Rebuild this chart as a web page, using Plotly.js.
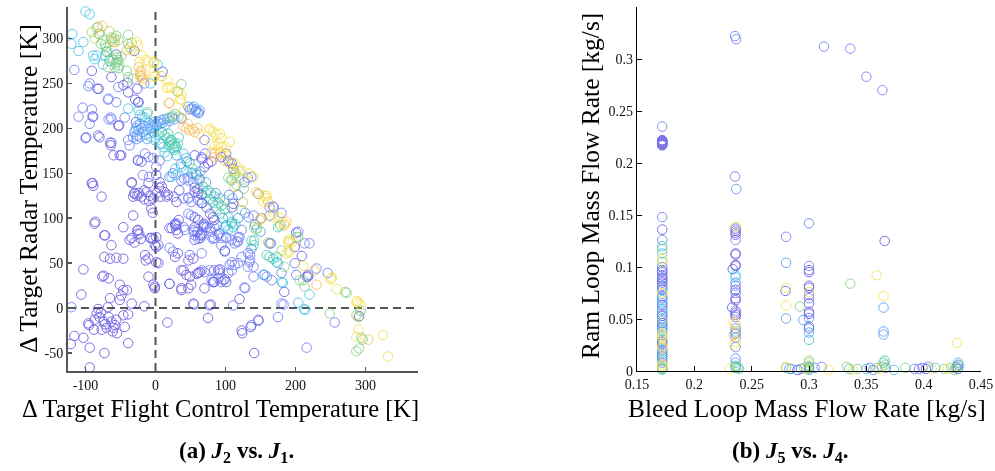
<!DOCTYPE html>
<html>
<head>
<meta charset="utf-8">
<script src="https://cdn.plot.ly/plotly-3.0.1.min.js"></script>
<style>html,body{margin:0;padding:0;background:#fff;}#chart{width:995px;height:471px;}</style>
</head>
<body>
<div id="chart"></div>
<script>
// ---------- Panel (a): J2 vs J1 (Δ flight control temp, Δ radar temp) ----------
const aPurple = [[-116,-31],[-121,-40],[-103,-33],[-94,-44],[-94,-66],[-73,-50],[-103,43],[-106,15],[-82,-1],[-84,-6],[-96,-17],[-95,-19],[-87,-13],[-74,-15],[-67,-10],[-80,-10],[-70,-22],[-77,-24],[-61,-26],[-58,-19],[-56,-13],[-46,-8],[-39,-7],[-44,-21],[-39,-39],[-34,5],[-68,1],[-65,11],[-51,9],[-49,14],[-46,20],[-41,20],[-51,26],[-74,36],[-76,35],[-67,33],[-73,57],[-65,55],[-56,56],[-46,55],[-63,-15],[-60,-22],[-72,-18],[-88,-24],[-78,-5],[-55,-28],
[-72,81],[-63,70],[-37,76],[-30,73],[-25,83],[-26,86],[-8,78],[-3,77],[-1,70],[1,68],[-15,59],[-10,55],[-14,53],[1,51],[4,50],[-3,26],[-1,22],[-16,2],[-10,35],[-1,24],[17,-16],[20,27],[37,20],[47,22],[40,42],[59,38],[54,5],[75,-11],[77,3],[70,22],[83,29],[37,42],[44,37],[49,35],[61,39],[63,40],[28,57],[32,61],[47,53],[49,59],[54,55],[37,22],[51,26],[120,10],[124,-28],[136,-21],[147,-14],[141,-50],[79,4],
[-91,139],[-77,124],[-86,96],[-73,81],[-34,139],[-30,128],[-24,128],[-32,124],[-20,124],[-16,131],[-10,139],[-60,170],[-51,170],[-82,192],[-52,203],[-28,207],[-99,190],[-80,190],[-63,184],[-64,181],[-49,170],[-25,164],[-20,163],[-34,140],[-90,139],[-89,136],[-30,127],[-26,125],[-13,129],[-8,125],[-3,122],[2,128],[5,134],[7,124],[-16,121],[-9,119],[18,126],[26,124],[34,131],[30,118],[-6,111],[-4,106],[-32,103],[-87,94],[-46,90],[-25,87],[-23,82],[-34,78],[-21,77],[-6,78],[1,79],[4,70],[23,89],[29,92],[32,83],[56,90],[60,85],[64,81],[56,76],[64,78],[1,148],[6,140],[9,135],[13,129],[16,124],[56,129],[61,128],[66,126],[66,117],[73,112],[78,105],[56,101],[61,98],[69,94],[73,90],[33,98],[28,94],[30,87],[82,101],[84,98],[70,157],[75,161],[80,163],[94,168],[104,164],[109,161],[111,155],[91,83],[99,63],[99,32],[101,29],[82,29],
[-91,264],[-83,244],[-89,213],[-56,282],[-53,203],[-25,229],[-30,286],[10,263],[37,211],[-63,257],[-46,248],[-40,251],[-39,240],[-26,244],[-29,232],[66,166],[56,170],
[201,84],[209,58],[216,35],[218,35],[199,68],[147,127],[163,72],[151,100],[184,18],[291,-9],[56,134],[60,132],[109,112],[111,116],[123,-25],[84,42],[90,42],[92,43]];

const aBlueViolet = [[-120,1],[-116,265],[-110,213],[-100,189],[-94,250],[-96,247],[-91,221],[-68,232],[-56,229],[-67,210],[-63,210],[-44,212],[-39,187],[-37,181],[-26,192],[-65,184],[-32,190],[-94,205],[-90,213],[-64,212],[-81,244],[-67,233],[-104,223],[-53,246],[-24,229],[-16,250],[-25,165],[-15,172],[-10,168],[1,157],[20,146],[25,150],[37,142],[47,142],[54,140],[40,122],[47,122],[47,105],[51,103],[54,87],[66,83],[47,123],[51,118],[61,120],[67,117],[59,148],[63,144],[41,144],[46,145],[66,168],[71,172],[-3,167],[6,164],[-18,148],[-9,146],
[20,67],[25,63],[20,89],[28,92],[30,94],[40,90],[42,87],[55,85],[56,81],[61,77],[68,92],[78,89],[82,77],[89,81],[94,70],[99,64],[66,61],[20,27],[84,29],[90,33],[94,29],[97,31],[92,39],[104,39],[109,42],[113,48],[118,50],[123,57],[135,59],[137,66],[109,76],[120,79],[118,74],[128,22],[135,53],[132,46],[140,46],[159,35],[111,3],[55,4],[175,-10],[183,4],[180,5],[147,-13],[137,-19],[216,-44],[256,-16],[213,72],[220,72],[218,37],[199,50],[230,44],[246,39],[180,39],[154,37],[166,31],[201,37],[168,113],[163,112],[169,112],[163,103],[180,106],[132,145],[137,146],[127,140],[118,126],[133,101],[140,103],[123,87],[84,90],[88,92],[68,90],[80,79],[84,78],[94,78],[101,78],[113,72],[118,79],[101,79],[70,92],[80,85],[116,74],[66,81],[77,42],[66,42],[70,40],[80,31],[109,51],[106,48],[132,61],[134,51],[140,35],[101,172],[70,187],[204,85],[127,23],[57,219],[52,222],[62,217],[49,221]];

const aBlue = [[-30,196],[-28,200],[-26,203],[-24,198],[-22,205],[-20,200],[-18,196],[-16,203],[-14,193],[-12,199],[-10,206],[-8,200],[-6,204],[-4,202],[-2,207],[0,205],[2,203],[4,207],[6,205],[8,209],[10,206],[12,210],[14,204],[17,211],[20,208],[24,212],[27,210],[-22,190],[-27,188],[-12,188],[55,224],[58,221],[60,218],[63,220],[47,224],
[30,170],[36,160],[45,163],[52,150],[64,152],[72,140],[86,128],[92,122],[105,126],[110,122],[128,106],[142,93],[150,85],[165,72],[118,100],[96,100]];

const aCyan = [[-100,330],[-94,327],[-119,305],[-120,294],[-110,286],[-103,296],[-84,281],[-72,281],[-75,271],[-89,281],[-87,277],[-39,222],[-24,220],[-22,215],[-19,213],[-7,250],[3,271],[-1,187],[9,183],[6,183],[11,179],[13,173],[17,169],[40,172],[44,167],[28,155],[37,157],[44,153],[23,146],[29,148],[101,92],[109,94],[111,90],[204,6],[214,-2],[212,-1],[220,15],[293,-3],[156,37],[180,29],[182,28],[173,51],[175,50],[-15,212],[-12,216],[-2,195],[-6,190],[3,193],[104,87],[99,90]];

const aTeal = [[9,196],[13,192],[17,189],[20,185],[24,182],[26,178],[28,180],[30,179],[27,176],[32,183],[22,187],[18,194],[33,190],[49,161],[53,155],[58,150],[63,142],[68,135],[72,128],[77,121],[82,117],[87,110],[92,105],[75,131],[79,128],[84,124],[90,117],[94,114],[99,110],[104,101],[109,96],[114,93],[175,90],[178,92],[137,75],[141,75],[140,70],[159,59],[163,57],[168,55],[173,57],[23,187],[27,183],[20,181],[-53,267],[-66,275],[-70,285]];

const aGreen = [[-80,305],[-78,294],[-75,298],[-71,290],[-69,286],[-63,301],[-56,303],[-53,298],[-39,304],[-60,276],[-57,272],[-55,279],[-52,270],[-58,268],[-54,274],[-68,268],[-49,280],[-41,264],[-39,257],[-32,255],[-84,312],[-81,305],[-72,293],[-63,278],[-56,274],[-53,276],[-39,294],[-37,290],[-63,298],[-59,300],[-11,218],[20,212],[24,214],[28,216],[33,213],[32,241],[37,249],[109,142],[113,148],[120,145],[116,137],[126,133],[99,120],[104,145],[108,143],[114,150],[123,109],[141,90],[145,89],[144,87],[204,79],[201,79],[206,31],[211,31],[213,24],[271,18],[273,17],[249,-6],[287,-8],[294,-33],[296,-35],[287,-48],[291,-45],[184,46],[180,64]];

const aOlive = [[-82,313],[-91,307],[-87,300],[9,258],[-61,296],[106,161],[125,118],[161,73],[290,-10],[-34,295],[-66,308],[120,152]];

const aOrange = [[-76,314],[-41,287],[-22,263],[-20,258],[-18,253],[-22,260],[-24,268],[-20,264],[-22,258],[-18,256],[19,228],[20,228],[44,200],[48,198],[53,199],[40,202],[46,205],[56,196],[60,200],[62,194],[85,172],[92,172],[99,164],[80,172],[84,168],[113,135],[149,98],[187,96],[184,92],[227,42],[230,26],[190,74],[304,-35],[144,129],[161,118],[-58,296]];

const aYellow = [[-34,287],[-27,296],[-25,292],[-20,281],[-23,274],[-10,274],[-3,273],[-3,263],[-1,258],[-13,276],[-3,257],[17,253],[19,246],[16,245],[23,245],[37,238],[35,232],[37,232],[41,220],[77,200],[92,194],[78,198],[82,196],[86,194],[80,183],[85,181],[94,179],[94,189],[90,183],[99,172],[94,174],[101,179],[106,185],[113,161],[118,157],[123,153],[134,150],[140,146],[111,153],[147,127],[159,125],[156,125],[158,122],[166,101],[169,105],[176,101],[179,94],[154,118],[184,94],[151,100],[192,73],[190,64],[191,62],[187,61],[211,47],[251,33],[252,34],[250,32],[259,21],[287,7],[290,5],[288,8],[294,3],[290,-24],[287,-32],[325,-30],[332,-54],[196,74],[191,76],[31,241],[-2,274]];

// ---------- Panel (b): J5 vs J4 (bleed loop, ram loop mass flow rate) ----------
const bPurple = [[0.172,0.217],[0.172,0.218],[0.172,0.219],[0.172,0.22],[0.172,0.221],[0.172,0.222],[0.172,0.2185],[0.172,0.2205],[0.172,0.2175],[0.172,0.2195],[0.172,0.2215],[0.172,0.136],[0.172,0.097],[0.172,0.095],[0.172,0.087],[0.172,0.085],[0.172,0.082],[0.172,0.078],[0.172,0.063],[0.172,0.053],[0.172,0.046],[0.172,0.028],[0.172,0.014],[0.172,0.089],[0.172,0.092],
[0.236,0.137],[0.236,0.135],[0.236,0.133],[0.236,0.131],[0.236,0.113],[0.236,0.112],[0.236,0.102],[0.236,0.101],[0.2335,0.098],[0.236,0.078],[0.236,0.07],[0.236,0.068],[0.233,0.061],[0.236,0.056],[0.236,0.054],[0.236,0.036],
[0.2795,0.077],[0.29,0.001],[0.30,0.097],[0.30,0.095],[0.30,0.082],[0.30,0.080],[0.30,0.065],[0.30,0.057],[0.30,0.055],[0.30,0.041],[0.366,0.125],[0.402,0.002],[0.43,0.002]];

const bBlueViolet = [[0.172,0.235],[0.172,0.148],[0.172,0.126],[0.2355,0.322],[0.2365,0.319],[0.2355,0.187],[0.313,0.312],[0.336,0.31],[0.35,0.283],[0.364,0.27],[0.28,0.129],[0.30,0.142],[0.30,0.101],
[0.172,0.1],[0.172,0.072],[0.172,0.065],[0.172,0.055],[0.172,0.042],[0.172,0.026],[0.172,0.016],[0.172,0.008],
[0.236,0.126],[0.236,0.085],[0.236,0.082],[0.236,0.075],[0.236,0.058],[0.236,0.052],[0.236,0.041],[0.236,0.032],[0.236,0.023],
[0.30,0.073],[0.30,0.070],[0.30,0.051],[0.30,0.003],[0.305,0.003],
[0.353,0.003],[0.356,0.001],[0.367,0.003],[0.392,0.002],[0.396,0.002],[0.399,0.003],[0.404,0.004],[0.429,0.004],[0.43,0.006],[0.311,0.004],[0.293,0.002],[0.283,0.002]];

const bBlue = [[0.2365,0.175],[0.28,0.104],[0.28,0.0505],[0.295,0.049],[0.365,0.061],[0.365,0.038],[0.365,0.035],[0.30,0.043],[0.30,0.037],[0.172,0.09],[0.172,0.07],[0.172,0.06],[0.172,0.05],[0.172,0.038],[0.172,0.02],[0.236,0.012],[0.236,0.008],[0.172,0.044]];

const bCyan = [[0.172,0.12],[0.172,0.113],[0.172,0.08],[0.172,0.068],[0.172,0.058],[0.172,0.04],[0.172,0.018],[0.172,0.012],[0.172,0.002],[0.236,0.092],[0.236,0.09],[0.236,0.003],[0.30,0.03],[0.30,0.001],[0.285,0.002],[0.35,0.002],[0.374,0.001],[0.41,0.003],[0.43,0.008]];

const bTeal = [[0.236,0.038],[0.236,0.005],[0.238,0.003],[0.30,0.004],[0.335,0.002],[0.365,0.008],[0.366,0.01],[0.428,0.003],[0.172,0.03]];

const bGreen = [[0.172,0.117],[0.172,0.105],[0.172,0.048],[0.172,0.01],[0.172,0.003],[0.172,0.001],[0.236,0.004],[0.239,0.002],[0.28,0.003],[0.292,0.062],[0.296,0.003],[0.30,0.008],[0.30,0.005],[0.30,0.002],[0.333,0.004],[0.342,0.002],[0.359,0.003],[0.364,0.004],[0.366,0.006],[0.384,0.003],[0.418,0.002],[0.424,0.003],[0.427,0.001],[0.431,0.005],[0.336,0.084]];

const bOlive = [[0.172,0.034],[0.30,0.01]];

const bOrange = [[0.172,0.022],[0.2345,0.035],[0.236,0.045]];

const bYellow = [[0.172,0.108],[0.172,0.075],[0.172,0.036],[0.172,0.032],[0.172,0.024],[0.172,0.006],[0.172,0.004],[0.236,0.139],[0.2345,0.047],[0.236,0.028],[0.2345,0.025],[0.231,0.002],[0.28,0.08],[0.28,0.063],[0.28,0.004],[0.298,0.002],[0.30,0.076],[0.317,0.001],[0.338,0.001],[0.362,0.002],[0.359,0.092],[0.365,0.072],[0.407,0.002],[0.421,0.002],[0.429,0.027]];

// tick labels
const aXTicks = [-100, 0, 100, 200, 300];
const aXLabels = ['-100', '0', '100', '200', '300'];
const aYTicks = [-50, 0, 50, 100, 150, 200, 250, 300];
const aYLabels = ['-50', '0', '50', '100', '150', '200', '250', '300'];
const bXTicks = [0.15, 0.2, 0.25, 0.3, 0.35, 0.4, 0.45];
const bXLabels = ['0.15', '0.2', '0.25', '0.3', '0.35', '0.4', '0.45'];
const bYTicks = [0, 0.05, 0.1, 0.15, 0.2, 0.25, 0.3, 0.35];
const bYLabels = ['0', '0.05', '0.1', '0.15', '0.2', '0.25', '0.3', '0.35'];

// colour levels (parula-like)
const levelColors = ['#4634d8', '#5062f2', '#2f86f2', '#22b4e0', '#20bc9e', '#6cc66a', '#b4c23a', '#f2b03a', '#f2d82a'];
const aGroups = [aPurple, aBlueViolet, aBlue, aCyan, aTeal, aGreen, aOlive, aOrange, aYellow];
const bGroups = [bPurple, bBlueViolet, bBlue, bCyan, bTeal, bGreen, bOlive, bOrange, bYellow];

const traces = [];
function addGroups(groups, xa, ya) {
  groups.forEach((g, i) => {
    traces.push({
      type: 'scatter', mode: 'markers', xaxis: xa, yaxis: ya,
      x: g.map(p => p[0]), y: g.map(p => p[1]),
      cliponaxis: false, hoverinfo: 'skip', showlegend: false,
      opacity: 0.72,
      marker: {symbol: 'circle-open', size: 9.5, color: levelColors[i], line: {width: 1, color: levelColors[i]}}
    });
  });
}
addGroups(aGroups, 'x', 'y');
addGroups(bGroups, 'x2', 'y2');

const serif = 'Liberation Serif, DejaVu Serif, serif';
const tickFont = {family: serif, size: 14, color: '#111'};
const yDom = [1 - 371 / 471, 1 - 7 / 471];

const layout = {
  width: 995, height: 471,
  margin: {l: 0, r: 0, t: 0, b: 0},
  paper_bgcolor: '#fff', plot_bgcolor: '#fff',
  showlegend: false,
  xaxis: {domain: [68 / 995, 418 / 995], range: [-125, 375], tickvals: aXTicks, ticktext: aXLabels,
    ticks: 'inside', ticklen: 4, tickwidth: 1.5, tickcolor: '#555', showline: true, linecolor: '#555', linewidth: 2,
    showgrid: false, zeroline: false, tickfont: tickFont, anchor: 'y'},
  yaxis: {domain: yDom, range: [-70, 335], tickvals: aYTicks, ticktext: aYLabels,
    ticks: 'inside', ticklen: 4, tickwidth: 1.5, tickcolor: '#555', showline: true, linecolor: '#555', linewidth: 2,
    showgrid: false, zeroline: false, tickfont: tickFont, anchor: 'x'},
  xaxis2: {domain: [637 / 995, 981 / 995], range: [0.15, 0.45], tickvals: bXTicks, ticktext: bXLabels,
    ticks: 'inside', ticklen: 5, tickwidth: 1, tickcolor: '#000', showline: true, linecolor: '#000', linewidth: 1.2,
    showgrid: false, zeroline: false, tickfont: tickFont, anchor: 'y2'},
  yaxis2: {domain: yDom, range: [0, 0.35], tickvals: bYTicks, ticktext: bYLabels,
    ticks: 'inside', ticklen: 5, tickwidth: 1, tickcolor: '#000', showline: true, linecolor: '#000', linewidth: 1.2,
    showgrid: false, zeroline: false, tickfont: tickFont, anchor: 'x2'},
  shapes: [
    {type: 'line', xref: 'x', yref: 'y', x0: 0, x1: 0, y0: -70, y1: 335, layer: 'below', line: {color: '#555', width: 2, dash: '8px,5px'}},
    {type: 'line', xref: 'x', yref: 'y', x0: -125, x1: 375, y0: 0, y1: 0, layer: 'below', line: {color: '#555', width: 2, dash: '8px,5px'}}
  ],
  annotations: [
    {xref: 'paper', yref: 'paper', x: 220 / 995, y: 1 - 408 / 471, xanchor: 'center', yanchor: 'middle', showarrow: false,
      text: 'Δ Target Flight Control Temperature [K]', font: {family: serif, size: 24.5, color: '#000'}},
    {xref: 'paper', yref: 'paper', x: 28 / 995, y: 1 - 189 / 471, xanchor: 'center', yanchor: 'middle', showarrow: false, textangle: -90,
      text: 'Δ Target Radar Temperature [K]', font: {family: serif, size: 25.5, color: '#000'}},
    {xref: 'paper', yref: 'paper', x: 807 / 995, y: 1 - 408 / 471, xanchor: 'center', yanchor: 'middle', showarrow: false,
      text: 'Bleed Loop Mass Flow Rate [kg/s]', font: {family: serif, size: 25.5, color: '#000'}},
    {xref: 'paper', yref: 'paper', x: 590 / 995, y: 1 - 186 / 471, xanchor: 'center', yanchor: 'middle', showarrow: false, textangle: -90,
      text: 'Ram Loop Mass Flow Rate [kg/s]', font: {family: serif, size: 25.5, color: '#000'}},
    {xref: 'paper', yref: 'paper', x: 236 / 995, y: 1 - 452 / 471, xanchor: 'center', yanchor: 'middle', showarrow: false,
      text: '<b>(a) <i>J</i><sub>2</sub> vs. <i>J</i><sub>1</sub>.</b>', font: {family: serif, size: 23, color: '#000'}},
    {xref: 'paper', yref: 'paper', x: 790 / 995, y: 1 - 452 / 471, xanchor: 'center', yanchor: 'middle', showarrow: false,
      text: '<b>(b) <i>J</i><sub>5</sub> vs. <i>J</i><sub>4</sub>.</b>', font: {family: serif, size: 23, color: '#000'}}
  ]
};

Plotly.newPlot('chart', traces, layout, {staticPlot: true, displayModeBar: false});
</script>
</body>
</html>
